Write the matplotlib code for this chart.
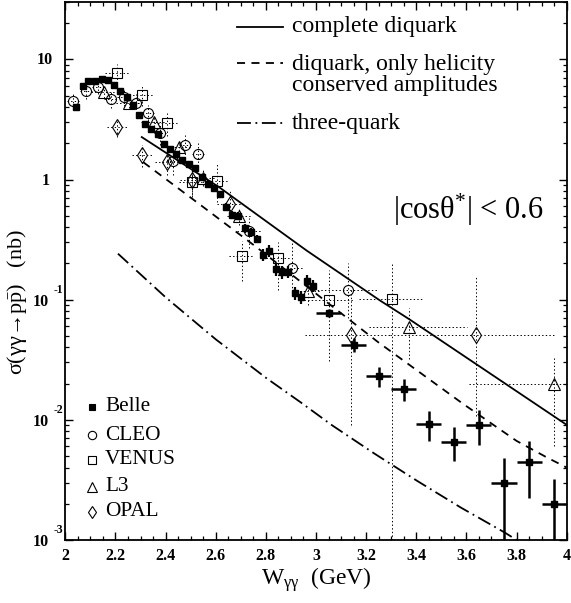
import numpy as np
import matplotlib
matplotlib.use("Agg")
import matplotlib.pyplot as plt
from matplotlib.lines import Line2D
from matplotlib.ticker import FixedLocator, NullFormatter

plt.rcParams['font.family'] = ['Liberation Serif', 'DejaVu Serif']
plt.rcParams['mathtext.fontset'] = 'custom'
plt.rcParams['mathtext.rm'] = 'Liberation Serif'
plt.rcParams['mathtext.it'] = 'Liberation Serif:italic'
plt.rcParams['mathtext.bf'] = 'Liberation Serif:bold'
plt.rcParams['lines.scale_dashes'] = False

# ---------------- data ----------------
belle_w = [2.043, 2.069, 2.092, 2.118, 2.145, 2.169, 2.194, 2.218, 2.245, 2.269,
           2.294, 2.318, 2.342, 2.369, 2.394, 2.418, 2.442, 2.467, 2.493, 2.517,
           2.544, 2.568, 2.593, 2.617, 2.641, 2.666, 2.690, 2.717, 2.740, 2.766,
           2.790, 2.814, 2.841, 2.863, 2.890, 2.916, 2.940, 2.965, 2.990]
belle_s = [4.0, 5.96, 6.6, 6.6, 6.8, 6.7, 6.07, 5.4, 4.85, 4.2,
           3.46, 2.91, 2.63, 2.40, 1.99, 1.78, 1.62, 1.46, 1.35, 1.24,
           1.04, 0.92, 0.85, 0.76, 0.595, 0.508, 0.50, 0.393, 0.364, 0.32,
           0.237, 0.256, 0.18, 0.169, 0.171, 0.113, 0.105, 0.144, 0.131]
belle_rel = [0.04, 0.04, 0.04, 0.04, 0.04, 0.04, 0.04, 0.04, 0.04, 0.04,
             0.04, 0.04, 0.04, 0.04, 0.04, 0.04, 0.04, 0.04, 0.04, 0.04,
             0.05, 0.05, 0.05, 0.05, 0.08, 0.08, 0.08, 0.08, 0.08, 0.08,
             0.12, 0.12, 0.12, 0.12, 0.12, 0.12, 0.12, 0.12, 0.12]

belle2_w = [3.05, 3.15, 3.25, 3.35, 3.45, 3.55, 3.65, 3.75, 3.85, 3.95]
belle2_s = [0.078, 0.042, 0.023, 0.018, 0.0092, 0.0066, 0.0091, 0.0030, 0.0045, 0.0020]
belle2_hi = [0.084, 0.048, 0.0277, 0.0218, 0.0119, 0.00875, 0.0120, 0.0048, 0.0067, 0.0032]
belle2_lo = [0.072, 0.037, 0.0186, 0.0144, 0.0067, 0.00455, 0.0062, 0.0005, 0.00225, 0.0005]
belle2_dw = [0.05, 0.05, 0.05, 0.05, 0.05, 0.05, 0.05, 0.05, 0.05, 0.05]

cleo_w = [2.030, 2.083, 2.130, 2.181, 2.233, 2.282, 2.329, 2.378, 2.428, 2.479, 2.529, 2.734, 2.903, 3.129]
cleo_s = [4.47, 5.45, 5.85, 4.64, 4.85, 4.37, 3.57, 2.43, 1.42, 1.93, 1.64, 0.37, 0.184, 0.121]
cleo_hi = [5.2, 6.2, 6.6, 5.4, 5.6, 5.1, 4.2, 2.9, 1.75, 2.35, 2.0, 0.48, 0.30, 0.20]
cleo_lo = [3.8, 4.7, 5.1, 3.9, 4.1, 3.6, 2.9, 1.95, 1.1, 1.5, 1.3, 0.27, 0.11, 0.07]
cleo_dwl = [0.025, 0.025, 0.025, 0.025, 0.025, 0.025, 0.025, 0.025, 0.025, 0.025, 0.025, 0.05, 0.05, 0.153]
cleo_dwr = [0.025, 0.025, 0.025, 0.025, 0.025, 0.025, 0.025, 0.025, 0.025, 0.025, 0.025, 0.05, 0.05, 0.118]

venus_w = [2.207, 2.305, 2.404, 2.504, 2.604, 2.703, 2.850, 3.053, 3.302]
venus_s = [7.74, 5.08, 2.94, 0.95, 0.98, 0.233, 0.222, 0.100, 0.101]
venus_hi = [9.2, 6.1, 3.6, 1.2, 1.35, 0.31, 0.30, 0.175, 0.20]
venus_lo = [6.3, 4.1, 2.3, 0.72, 0.65, 0.144, 0.12, 0.031, 0.0005]
venus_dw = [0.05, 0.05, 0.05, 0.05, 0.05, 0.05, 0.05, 0.10, 0.13]

l3_w = [2.153, 2.253, 2.353, 2.455, 2.550, 2.693, 2.970, 3.371, 3.949]
l3_s = [5.34, 4.33, 3.0, 1.86, 1.03, 0.50, 0.119, 0.0596, 0.0198]
l3_hi = [5.9, 4.8, 3.4, 2.1, 1.2, 0.58, 0.15, 0.086, 0.034]
l3_lo = [4.8, 3.9, 2.6, 1.6, 0.88, 0.42, 0.09, 0.032, 0.006]
l3_dwl = [0.05, 0.05, 0.05, 0.05, 0.05, 0.05, 0.05, 0.16, 0.34]
l3_dwr = [0.05, 0.05, 0.05, 0.05, 0.05, 0.05, 0.05, 0.23, 0.34]

opal_w = [2.208, 2.305, 2.404, 2.504, 2.655, 3.138, 3.638]
opal_s = [2.73, 1.585, 1.39, 0.99, 0.627, 0.0508, 0.0508]
opal_hi = [3.2, 1.92, 1.7, 1.2, 0.8, 0.125, 0.158]
opal_lo = [2.25, 1.27, 1.1, 0.75, 0.48, 0.009, 0.0108]
opal_dwl = [0.043, 0.04, 0.045, 0.045, 0.05, 0.18, 0.343]
opal_dwr = [0.043, 0.04, 0.045, 0.045, 0.05, 0.157, 0.315]

# theory curves
full_w = [2.305, 2.617, 2.963, 3.256, 3.375, 4.0]
full_s = [2.254, 0.853, 0.256, 0.0982, 0.0681, 0.00908]
hc_w = [2.311, 2.537, 2.763, 2.943, 3.249, 3.588, 3.80, 3.922, 4.0]
hc_s = [1.393, 0.619, 0.273, 0.139, 0.0441, 0.01352, 0.00668, 0.00485, 0.00401]
tq_w = [2.21, 2.40, 2.60, 2.80, 2.94, 3.063, 3.231, 3.404, 3.578, 3.754, 3.80]
tq_s = [0.2415, 0.1047, 0.0468, 0.0224, 0.01393, 0.00904, 0.00527, 0.0031, 0.00186, 0.00115, 0.001]

theory_labels = ["complete diquark", "diquark, only helicity\nconserved amplitudes", "three-quark"]
exp_labels = ["Belle", "CLEO", "VENUS", "L3", "OPAL"]
xticks = [2.0, 2.2, 2.4, 2.6, 2.8, 3.0, 3.2, 3.4, 3.6, 3.8, 4.0]
xticklabels = ["2", "2.2", "2.4", "2.6", "2.8", "3", "3.2", "3.4", "3.6", "3.8", "4"]
ydecades = [-3, -2, -1, 0, 1]

# ---------------- figure ----------------
W, H = 571, 603
fig = plt.figure(figsize=(W / 100, H / 100), dpi=100)
L, R, T, B = 65.3, 566.7, 2.0, 540.0
ax = fig.add_axes([L / W, 1 - B / H, (R - L) / W, (B - T) / H])
ax.set_yscale('log')
ax.set_xlim(2.0, 4.0)
ax.set_ylim(1e-3, 30)

DASHED = (0, (5.8, 4.6))
DASHDOT = (0, (10.0, 3.3, 1.3, 3.3))

ax.plot(full_w, full_s, color='k', lw=1.3, zorder=3)
ax.plot(hc_w, hc_s, color='k', lw=1.3, linestyle=DASHED, zorder=3)
ax.plot(tq_w, tq_s, color='k', lw=1.3, linestyle=DASHDOT, zorder=3)


def asym(c, lo, hi):
    c = np.asarray(c); lo = np.asarray(lo); hi = np.asarray(hi)
    return [c - lo, hi - c]


def dotted_err(x, y, xl, xr, lo, hi, marker, ms):
    eb = ax.errorbar(x, y, xerr=[xl, xr], yerr=asym(y, lo, hi), fmt='none',
                     ecolor='k', elinewidth=0.7, capsize=0, zorder=2)
    for c in eb[2]:
        c.set_linestyle((0, (1.0, 1.6)))
    ax.plot(x, y, linestyle='none', marker=marker, ms=ms, mfc='none',
            mec='k', mew=0.8, zorder=4)


dotted_err(cleo_w, cleo_s, cleo_dwl, cleo_dwr, cleo_lo, cleo_hi, 'o', 7.2)
dotted_err(venus_w, venus_s, venus_dw, venus_dw, venus_lo, venus_hi, 's', 7.0)
dotted_err(l3_w, l3_s, l3_dwl, l3_dwr, l3_lo, l3_hi, '^', 8.0)
dotted_err(opal_w, opal_s, opal_dwl, opal_dwr, opal_lo, opal_hi, 'd', 8.0)

bs = np.asarray(belle_s)
br = np.asarray(belle_rel)
ax.errorbar(belle_w, belle_s, yerr=[bs * br, bs * br], fmt='s', ms=5.0,
            color='k', mfc='k', mec='k', elinewidth=1.6, capsize=0, zorder=5)
ax.errorbar(belle2_w, belle2_s, xerr=belle2_dw, yerr=asym(belle2_s, belle2_lo, belle2_hi),
            fmt='s', ms=5.0, color='k', mfc='k', mec='k', elinewidth=1.8,
            capsize=0, zorder=5)

# ---------------- axes styling ----------------
for sp in ax.spines.values():
    sp.set_linewidth(1.3)
ax.xaxis.set_major_locator(FixedLocator(xticks))
ax.xaxis.set_minor_locator(FixedLocator(np.arange(2.0, 4.001, 0.05)))
ax.set_xticklabels(xticklabels, fontsize=11.5, fontweight='bold')
ax.tick_params(axis='both', which='major', direction='in', length=6, width=1.0,
               top=True, right=True)
ax.tick_params(axis='both', which='minor', direction='in', length=3, width=0.9,
               top=True, right=True)
ax.tick_params(axis='x', which='major', pad=6)
ax.yaxis.set_major_formatter(NullFormatter())
ax.yaxis.set_minor_formatter(NullFormatter())

for d in ydecades:
    v = 10.0 ** d
    if d == 1:
        ax.annotate("10", xy=(0, v), xycoords=('axes fraction', 'data'),
                    xytext=(-12, -1), textcoords='offset pixels', ha='right',
                    va='center', fontsize=11.5, fontweight='bold')
    elif d == 0:
        ax.annotate("1", xy=(0, v), xycoords=('axes fraction', 'data'),
                    xytext=(-15, -1), textcoords='offset pixels', ha='right',
                    va='center', fontsize=11.5, fontweight='bold')
    else:
        ax.annotate("10", xy=(0, v), xycoords=('axes fraction', 'data'),
                    xytext=(-16, -2), textcoords='offset pixels', ha='right',
                    va='center', fontsize=11.5, fontweight='bold')
        ax.annotate(str(d), xy=(0, v), xycoords=('axes fraction', 'data'),
                    xytext=(-12, 10), textcoords='offset pixels', ha='left',
                    va='center', fontsize=8.5, fontweight='bold')


def fx(x):
    return x / W


def fy(y):
    return 1 - y / H


# theory legend (top right)
styles = ['-', DASHED, DASHDOT]
ly = [26.7, 63.3, 123.3]
for st, yy in zip(styles, ly):
    fig.add_artist(Line2D([fx(237), fx(283)], [fy(yy), fy(yy)], color='k', lw=1.3,
                          linestyle=st))
fig.text(fx(292), fy(26.7), theory_labels[0], fontsize=17, ha='left', va='center')
fig.text(fx(292), fy(54), theory_labels[1], fontsize=17, ha='left', va='top',
         linespacing=1.0)
fig.text(fx(292), fy(123.3), theory_labels[2], fontsize=17, ha='left', va='center')

# experiment legend (bottom left)
exp_markers = ['s', 'o', 's', '^', 'd']
exp_fill = ['k', 'none', 'none', 'none', 'none']
exp_ms = [4.5, 6.0, 6.0, 6.5, 6.5]
exp_y = [406.7, 435.0, 460.0, 486.7, 511.7]
for lab, m, f, ms, yy in zip(exp_labels, exp_markers, exp_fill, exp_ms, exp_y):
    fig.add_artist(Line2D([fx(91.7)], [fy(yy)], marker=m, ms=ms, mfc=f, mec='k',
                          mew=0.8, linestyle='none'))
    fig.text(fx(105), fy(yy), lab, fontsize=15.3, ha='left', va='center')

fig.text(fx(393), fy(210), "|cosθ$^{*}$| < 0.6", fontsize=22,
         ha='left', va='center')

fig.text(fx(17), fy(302), "σ(γγ→p$\\bar{\\mathrm{p}}$)   (nb)",
         fontsize=16, rotation=90, ha='center', va='center')
fig.text(fx(316), fy(580), "W$_{\\mathrm{γγ}}$  (GeV)", fontsize=17,
         ha='center', va='center')

fig.savefig("out.png", dpi=100)
